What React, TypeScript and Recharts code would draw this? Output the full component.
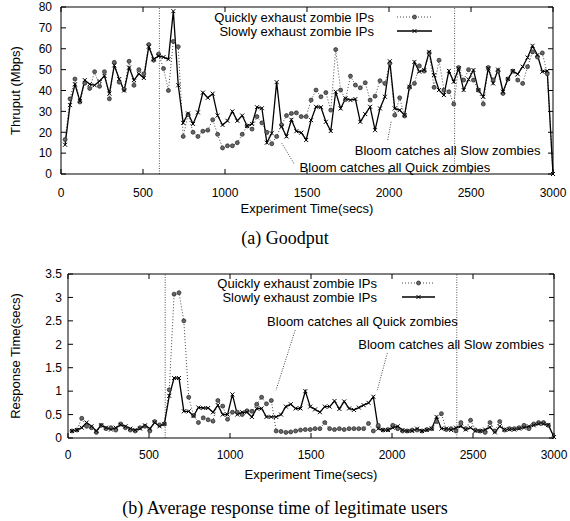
import React from 'react';
import { LineChart, Line, XAxis, YAxis, ReferenceLine, ReferenceDot } from 'recharts';

// sample times (secs)
const times = [
  25, 55, 85, 115, 145, 175, 205, 235, 265, 295,
  325, 355, 385, 415, 445, 475, 505, 535, 565, 595,
  625, 655, 685, 715, 745, 775, 805, 835, 865, 895,
  925, 955, 985, 1015, 1045, 1075, 1105, 1135, 1165, 1195,
  1225, 1255, 1285, 1315, 1345, 1375, 1405, 1435, 1465, 1495,
  1525, 1555, 1585, 1615, 1645, 1675, 1705, 1735, 1765, 1795,
  1825, 1855, 1885, 1915, 1945, 1975, 2005, 2035, 2065, 2095,
  2125, 2155, 2185, 2215, 2245, 2275, 2305, 2335, 2365, 2395,
  2425, 2455, 2485, 2515, 2545, 2575, 2605, 2635, 2665, 2695,
  2725, 2755, 2785, 2815, 2845, 2875, 2905, 2935, 2965, 3000,
];

// (a) goodput, Mbps
const goodputQuick = [
  16.5, 36, 45.5, 34.5, 43.5, 41, 49, 42, 49, 36,
  53.5, 44, 40.5, 54, 42.5, 50, 48, 62, 54.5, 57.5,
  50.5, 40, 63.5, 61, 18, 28.5, 20, 18, 20.5, 21,
  26, 19, 12.5, 13.5, 13.5, 15, 19, 23, 21.5, 27.5,
  24.5, 20, 14.5, 18, 23.5, 28, 29, 29.3, 27.5, 27.5,
  35.4, 40.2, 37, 39, 30.6, 59.6, 40.2, 35.7, 46.9, 42.6,
  41.3, 43.7, 35.4, 37.3, 44.7, 43.4, 53, 28.2, 36.5, 27.8,
  41.5, 43.4, 51.8, 49.3, 58, 41.5, 54.5, 40.2, 39.4, 33.5,
  51, 45, 50, 45, 40.2, 33.5, 51, 45, 49.3, 38.6,
  45.5, 49.3, 45, 43.4, 51.4, 58.5, 56, 58, 48, 0,
];
const goodputSlow = [
  14, 33, 43, 35, 45, 43, 42.5, 44.5, 47, 38.5,
  52, 45.5, 40, 51, 45, 48, 46, 61, 55, 56.5,
  56, 55, 78, 42.5, 24.5, 29, 24, 29.5, 39, 36.5,
  38.5, 28, 23.5, 25.5, 30, 25.5, 28, 23, 24, 32,
  31.5, 15, 19.5, 44, 22.7, 18, 26, 20.5, 19.8, 16.3,
  25.8, 32.2, 32, 25, 20.6, 39.4, 31.4, 36.2, 35.4, 35.9,
  25, 28.7, 32.2, 21, 31.4, 37, 54, 31.4, 30.6, 28.2,
  41.8, 53.7, 49, 49.8, 58.5, 47.4, 40.2, 37.8, 49.4, 44.2,
  50.6, 40.2, 45.3, 49.8, 40.2, 37, 50.6, 43.4, 50, 39.4,
  45.5, 49.3, 47.8, 51.4, 55.8, 61.4, 57, 49, 49.4, 0,
];

// (b) response time, secs
const respQuick = [
  0.15, 0.17, 0.42, 0.25, 0.22, 0.12, 0.27, 0.2, 0.22, 0.17,
  0.3, 0.22, 0.17, 0.15, 0.22, 0.25, 0.15, 0.35, 0.28, 0.3,
  1.03, 3.07, 3.1, 2.5, 0.87, 0.48, 0.33, 0.43, 0.39, 0.36,
  0.8, 0.68, 0.4, 0.55, 0.55, 0.5, 0.58, 0.57, 0.72, 0.87,
  0.73, 0.8, 0.15, 0.14, 0.12, 0.13, 0.15, 0.17, 0.18, 0.18,
  0.2, 0.2, 0.33, 0.2, 0.18, 0.2, 0.18, 0.2, 0.2, 0.2,
  0.2, 0.31, 0.15, 0.27, 0.17, 0.18, 0.27, 0.2, 0.15, 0.15,
  0.17, 0.17, 0.15, 0.18, 0.2, 0.35, 0.52, 0.18, 0.2, 0.15,
  0.33, 0.2, 0.38, 0.17, 0.15, 0.12, 0.33, 0.15, 0.35, 0.17,
  0.2, 0.2, 0.22, 0.27, 0.2, 0.3, 0.33, 0.33, 0.27, 0.02,
];
const respSlow = [
  0.15, 0.17, 0.22, 0.33, 0.25, 0.15, 0.27, 0.22, 0.18, 0.22,
  0.28, 0.25, 0.2, 0.17, 0.2, 0.27, 0.2, 0.33, 0.25, 0.3,
  0.9, 1.28, 1.28, 0.57, 0.57, 0.47, 0.65, 0.64, 0.64, 0.55,
  0.7, 0.5, 0.5, 0.93, 0.5, 0.55, 0.55, 0.45, 0.63, 0.63,
  0.45, 0.45, 0.45, 0.5, 0.67, 0.72, 0.63, 0.63, 1.0, 0.67,
  0.61, 0.55, 0.67, 0.67, 0.79, 0.62, 0.78, 0.63, 0.6, 0.65,
  0.7, 0.75, 0.88, 0.2, 0.17, 0.17, 0.22, 0.25, 0.17, 0.15,
  0.15, 0.2, 0.15, 0.17, 0.2, 0.45, 0.2, 0.2, 0.17, 0.22,
  0.25, 0.18, 0.22, 0.15, 0.15, 0.18, 0.23, 0.12, 0.25, 0.18,
  0.18, 0.18, 0.2, 0.22, 0.25, 0.27, 0.3, 0.3, 0.28, 0.02,
];

const xTicks = [0, 500, 1000, 1500, 2000, 2500, 3000];
const goodputTicks = [0, 10, 20, 30, 40, 50, 60, 70, 80];
const respTicks = [0, 0.5, 1, 1.5, 2, 2.5, 3, 3.5];
const phaseMarks = [600, 2400];
const seriesNames = ['Quickly exhaust zombie IPs', 'Slowly exhaust zombie IPs'];
const notes = ['Bloom catches all Quick zombies', 'Bloom catches all Slow zombies'];

const SANS = '"Liberation Sans", Arial, Helvetica, sans-serif';
const SERIF = '"Liberation Serif", "Times New Roman", serif';

const goodputData = times.map((t, i) => ({ t, quick: goodputQuick[i], slow: goodputSlow[i] }));
const respData = times.map((t, i) => ({ t, quick: respQuick[i], slow: respSlow[i] }));

const QuickDot = (p: any) =>
  p.cx == null ? null : (
    <circle key={`q${p.index}`} cx={p.cx} cy={p.cy} r={2} fill="#666" stroke="#222" strokeWidth={0.7} />
  );

const SlowDot = (p: any) =>
  p.cx == null ? null : (
    <path
      key={`s${p.index}`}
      d={`M${p.cx - 2},${p.cy - 2}L${p.cx + 2},${p.cy + 2}M${p.cx - 2},${p.cy + 2}L${p.cx + 2},${p.cy - 2}`}
      stroke="#000"
      strokeWidth={1}
      fill="none"
    />
  );

const NoLabel = () => <g />;

const tickStyle = { fontSize: 12, fill: '#000', fontFamily: SANS };
const axisStroke = { stroke: '#000', strokeWidth: 1 };
const noteStyle = { fontSize: 13, fill: '#000', fontFamily: SANS };

const xTitle = (cy: number) => ({ viewBox }: any) => (
  <text x={viewBox.x + viewBox.width / 2} y={cy} textAnchor="middle" dominantBaseline="central" fontSize={13} fontFamily={SANS} fill="#000">
    Experiment Time(secs)
  </text>
);

const yTitle = (text: string) => ({ viewBox }: any) => {
  const cx = 15;
  const cy = viewBox.y + viewBox.height / 2;
  return (
    <text x={cx} y={cy} transform={`rotate(-90 ${cx} ${cy})`} textAnchor="middle" dominantBaseline="central" fontSize={13} fontFamily={SANS} fill="#000">
      {text}
    </text>
  );
};

function LegendBox({ top, right, x1, x2 }: { top: number; right: number; x1: number; x2: number }) {
  return (
    <g>
      {seriesNames.map((name, i) => {
        const y = top + i * 14;
        const mid = (x1 + x2) / 2;
        return (
          <g key={name}>
            <text x={right} y={y} textAnchor="end" dominantBaseline="central" fontSize={13} fontFamily={SANS} fill="#000">
              {name}
            </text>
            <line x1={x1} x2={x2} y1={y} y2={y} stroke={i === 0 ? '#444' : '#000'} strokeWidth={i === 0 ? 1 : 1.3} strokeDasharray={i === 0 ? '1 2' : undefined} />
            {i === 0 ? QuickDot({ cx: mid, cy: y, index: 'l' }) : SlowDot({ cx: mid, cy: y, index: 'l' })}
          </g>
        );
      })}
    </g>
  );
}

export default function App() {
  return (
    <div style={{ position: 'absolute', left: 0, top: 0, width: 570, height: 521, background: '#fff', fontFamily: SANS }}>
      <LineChart
        width={570}
        height={250}
        data={goodputData}
        margin={{ top: 6, right: 16, left: 21, bottom: 46 }}
        style={{ position: 'absolute', left: 0, top: 0 }}
      >
        <XAxis
          dataKey="t"
          type="number"
          domain={[0, 3000]}
          ticks={xTicks}
          interval={0}
          height={30}
          tickSize={-5}
          tickMargin={19}
          tick={tickStyle}
          axisLine={axisStroke}
          tickLine={axisStroke}
          label={{ content: xTitle(208) }}
        />
        <XAxis xAxisId="top" dataKey="t" orientation="top" type="number" domain={[0, 3000]} allowDataOverflow ticks={xTicks} interval={0} height={1} tickSize={-5} tick={NoLabel} axisLine={axisStroke} tickLine={axisStroke} />
        <YAxis
          type="number"
          domain={[0, 80]}
          ticks={goodputTicks}
          interval={0}
          width={40}
          tickSize={-5}
          tickMargin={14}
          tick={tickStyle}
          axisLine={axisStroke}
          tickLine={axisStroke}
          label={{ content: yTitle('Thruput (Mbps)') }}
        />
        <YAxis yAxisId="right" orientation="right" type="number" domain={[0, 80]} allowDataOverflow ticks={goodputTicks} interval={0} width={1} tickSize={-5} tick={NoLabel} axisLine={axisStroke} tickLine={axisStroke} />
        {phaseMarks.map((m) => (
          <ReferenceLine key={m} x={m} stroke="#555" strokeDasharray="1 1.5" />
        ))}
        <ReferenceLine segment={[{ x: 1420, y: 5.1 }, { x: 1347, y: 14.7 }]} stroke="#444" strokeDasharray="1 1.5" />
        <ReferenceLine segment={[{ x: 1992, y: 16.3 }, { x: 2013, y: 25 }]} stroke="#444" strokeDasharray="1 1.5" />
        <ReferenceDot x={1455} y={3.3} r={0} fill="none" stroke="none" label={{ value: notes[0], position: 'right', offset: 0, ...noteStyle }} />
        <ReferenceDot x={1791} y={11.5} r={0} fill="none" stroke="none" label={{ value: notes[1], position: 'right', offset: 0, ...noteStyle }} />
        <Line xAxisId="top" yAxisId="right" dataKey="quick" stroke="#444" strokeWidth={1} strokeDasharray="1 2" dot={QuickDot} activeDot={false} isAnimationActive={false} />
        <Line dataKey="slow" stroke="#000" strokeWidth={1.3} dot={SlowDot} activeDot={false} isAnimationActive={false} />
      </LineChart>

      <LineChart
        width={570}
        height={261}
        data={respData}
        margin={{ top: 13, right: 15, left: 28, bottom: 53 }}
        style={{ position: 'absolute', left: 0, top: 260 }}
      >
        <XAxis
          dataKey="t"
          type="number"
          domain={[0, 3000]}
          ticks={xTicks}
          interval={0}
          height={30}
          tickSize={-5}
          tickMargin={17}
          tick={tickStyle}
          axisLine={axisStroke}
          tickLine={axisStroke}
          label={{ content: xTitle(214) }}
        />
        <XAxis xAxisId="top" dataKey="t" orientation="top" type="number" domain={[0, 3000]} allowDataOverflow ticks={xTicks} interval={0} height={1} tickSize={-5} tick={NoLabel} axisLine={axisStroke} tickLine={axisStroke} />
        <YAxis
          type="number"
          domain={[0, 3.5]}
          ticks={respTicks}
          interval={0}
          width={40}
          tickSize={-5}
          tickMargin={11}
          tick={tickStyle}
          axisLine={axisStroke}
          tickLine={axisStroke}
          label={{ content: yTitle('Response Time(secs)') }}
        />
        <YAxis yAxisId="right" orientation="right" type="number" domain={[0, 3.5]} allowDataOverflow ticks={respTicks} interval={0} width={1} tickSize={-5} tick={NoLabel} axisLine={axisStroke} tickLine={axisStroke} />
        {phaseMarks.map((m) => (
          <ReferenceLine key={m} x={m} stroke="#555" strokeDasharray="1 1.5" />
        ))}
        <ReferenceLine segment={[{ x: 1402, y: 2.3 }, { x: 1284, y: 1.02 }]} stroke="#444" strokeDasharray="1 1.5" />
        <ReferenceLine segment={[{ x: 1971, y: 1.81 }, { x: 1909, y: 1.02 }]} stroke="#444" strokeDasharray="1 1.5" />
        <ReferenceDot x={1229} y={2.49} r={0} fill="none" stroke="none" label={{ value: notes[0], position: 'right', offset: 0, ...noteStyle }} />
        <ReferenceDot x={1792} y={2.0} r={0} fill="none" stroke="none" label={{ value: notes[1], position: 'right', offset: 0, ...noteStyle }} />
        <Line xAxisId="top" yAxisId="right" dataKey="quick" stroke="#444" strokeWidth={1} strokeDasharray="1 2" dot={QuickDot} activeDot={false} isAnimationActive={false} />
        <Line dataKey="slow" stroke="#000" strokeWidth={1.3} dot={SlowDot} activeDot={false} isAnimationActive={false} />
      </LineChart>

      <svg width={570} height={521} style={{ position: 'absolute', left: 0, top: 0, pointerEvents: 'none' }}>
        <LegendBox top={17} right={374} x1={397} x2={432} />
        <LegendBox top={283} right={377} x1={402} x2={435} />
      </svg>

      <div style={{ position: 'absolute', left: 0, width: 570, top: 227, height: 22, lineHeight: '22px', textAlign: 'center', fontFamily: SERIF, fontSize: 18 }}>
        (a) Goodput
      </div>
      <div style={{ position: 'absolute', left: 0, width: 570, top: 497, height: 22, lineHeight: '22px', textAlign: 'center', fontFamily: SERIF, fontSize: 18 }}>
        (b) Average response time of legitimate users
      </div>
    </div>
  );
}
